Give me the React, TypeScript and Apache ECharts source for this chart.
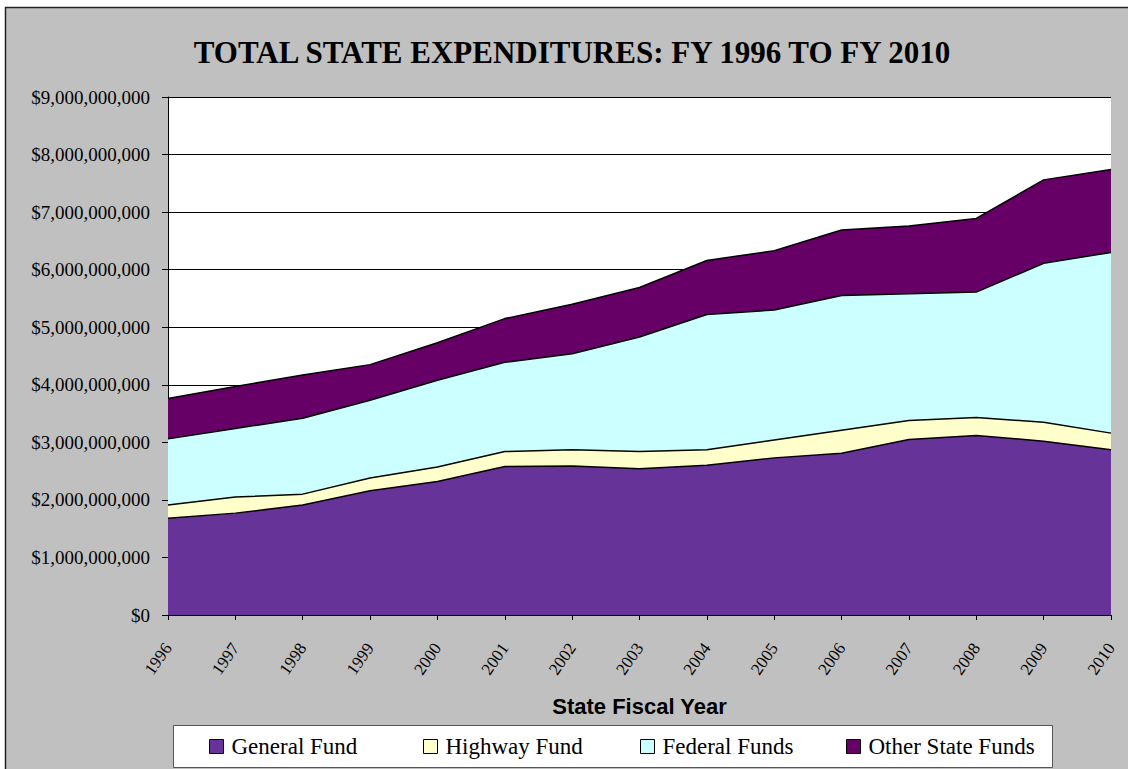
import React, { useEffect, useRef } from "react";
import * as echarts from "echarts";

const years = ["1996","1997","1998","1999","2000","2001","2002","2003","2004","2005","2006","2007","2008","2009","2010"];
const generalFund = [1680000000,1770000000,1910000000,2160000000,2320000000,2580000000,2590000000,2540000000,2600000000,2730000000,2810000000,3050000000,3120000000,3020000000,2870000000];
const highwayFund = [230000000,280000000,190000000,220000000,250000000,260000000,280000000,300000000,270000000,310000000,400000000,330000000,310000000,330000000,290000000];
const federalFunds = [1150000000,1190000000,1320000000,1350000000,1510000000,1550000000,1670000000,1990000000,2350000000,2260000000,2340000000,2200000000,2180000000,2760000000,3140000000];
const otherStateFunds = [700000000,730000000,750000000,620000000,650000000,760000000,860000000,860000000,940000000,1030000000,1140000000,1180000000,1280000000,1450000000,1440000000];

const seriesNames = ["General Fund", "Highway Fund", "Federal Funds", "Other State Funds"];
const seriesColors = ["#663399", "#FFFFCC", "#CCFFFF", "#660066"];
const legendLefts = [209, 423, 640, 846];

const SERIF = '"Liberation Serif", "Times New Roman", serif';
const SANS = '"Liberation Sans", Arial, sans-serif';

export default function App() {
  const ref = useRef<HTMLDivElement>(null);
  useEffect(() => {
    if (!ref.current) return;
    const chart = echarts.init(ref.current, null, { renderer: "svg" });
    const dataSets = [generalFund, highwayFund, federalFunds, otherStateFunds];
    chart.setOption({
      animation: false,
      backgroundColor: "#ffffff",
      graphic: [
        {
          type: "rect",
          z: -10,
          shape: { x: 5.5, y: 7.5, width: 1200, height: 800 },
          style: { fill: "#C0C0C0", stroke: "#222", lineWidth: 1.5 },
        },
        {
          type: "rect",
          z: 1,
          shape: { x: 173.5, y: 725.5, width: 879, height: 42 },
          style: { fill: "#ffffff", stroke: "#555", lineWidth: 1 },
        },
        {
          type: "text",
          z: 5,
          style: {
            text: "TOTAL STATE EXPENDITURES: FY 1996 TO FY 2010",
            x: 572,
            y: 52,
            fill: "#000",
            font: 'bold 31px "Liberation Serif", "Times New Roman", serif',
            textAlign: "center",
            textVerticalAlign: "middle",
          },
        },
      ],
      grid: {
        left: 168,
        top: 97,
        width: 943,
        height: 518,
        show: true,
        backgroundColor: "#ffffff",
        borderWidth: 0,
        containLabel: false,
      },
      legend: seriesNames.map((n, i) => ({
        data: [n],
        left: legendLefts[i],
        top: 735,
        orient: "horizontal",
        itemWidth: 14,
        itemHeight: 14,
        icon: "rect",
        selectedMode: false,
        itemStyle: { borderColor: "#000", borderWidth: 1 },
        textStyle: { fontFamily: SERIF, fontSize: 23, color: "#000", lineHeight: 23, padding: [0, 0, 0, 3] },
        padding: 0,
      })),
      xAxis: {
        type: "category",
        data: years,
        boundaryGap: false,
        name: "State Fiscal Year",
        nameLocation: "middle",
        nameGap: 80,
        nameTextStyle: { fontFamily: SANS, fontSize: 22, fontWeight: "bold", color: "#000" },
        axisLine: { show: true, lineStyle: { color: "#000", width: 1 } },
        axisTick: { show: true, length: 5, lineStyle: { color: "#000" } },
        axisLabel: { rotate: 55, fontFamily: SERIF, fontSize: 17, color: "#000", margin: 30, interval: 0 },
        splitLine: { show: false },
      },
      yAxis: {
        type: "value",
        min: 0,
        max: 9000000000,
        interval: 1000000000,
        axisLine: { show: true, lineStyle: { color: "#000", width: 1 } },
        axisTick: { show: true, length: 6, lineStyle: { color: "#000" } },
        axisLabel: {
          fontFamily: SERIF,
          fontSize: 19,
          color: "#000",
          margin: 18,
          formatter: (v: number) => "$" + Math.round(v).toLocaleString("en-US"),
        },
        splitLine: { show: true, lineStyle: { color: "#000", width: 1 } },
      },
      series: seriesNames.map((n, i) => ({
        name: n,
        type: "line",
        stack: "total",
        data: dataSets[i],
        symbol: "none",
        itemStyle: { color: seriesColors[i] },
        lineStyle: { color: "#000", width: 1.5 },
        areaStyle: { color: seriesColors[i], opacity: 1 },
      })),
    });
    return () => chart.dispose();
  }, []);
  return (
    <div
      ref={ref}
      style={{ position: "fixed", left: 0, top: 0, width: 1128, height: 769 }}
    />
  );
}
